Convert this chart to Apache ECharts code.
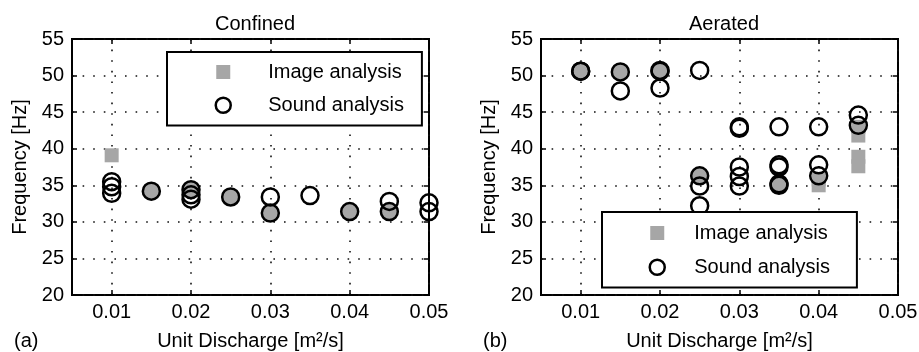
<!DOCTYPE html>
<html>
<head>
<meta charset="utf-8">
<script src="https://cdn.jsdelivr.net/npm/echarts@6/dist/echarts.min.js"></script>
<style>
  html, body { margin: 0; padding: 0; background: #fff; }
  #chart { width: 919px; height: 352px; }
</style>
</head>
<body>
<div id="chart"></div>
<script>
// tick values shared by both panels
const xTicks = [0.01, 0.02, 0.03, 0.04, 0.05];
const yMin = 20, yMax = 55, yStep = 5;

// (a) Confined  -- [unit discharge, frequency]
const confinedImage = [[0.01, 39.1]];
const confinedMatched = [[0.015, 34.2], [0.02, 34.4], [0.025, 33.4], [0.03, 31.2], [0.04, 31.4], [0.045, 31.4]];
const confinedSound = [[0.01, 35.5], [0.01, 34.8], [0.01, 33.9], [0.02, 33.7], [0.02, 33.1], [0.03, 33.4],
  [0.035, 33.6], [0.045, 32.8], [0.05, 32.6], [0.05, 31.4]];

// (b) Aerated
const aeratedImage = [[0.04, 35.0], [0.04, 35.8], [0.045, 43.0], [0.045, 41.8], [0.045, 38.9], [0.045, 37.6]];
const aeratedMatched = [[0.01, 50.6], [0.015, 50.5], [0.02, 50.6], [0.025, 36.3], [0.035, 35.0]];
const aeratedSound = [[0.01, 50.6], [0.015, 47.9], [0.02, 50.7], [0.02, 48.3], [0.025, 50.7], [0.025, 34.9], [0.025, 32.2],
  [0.03, 43.0], [0.03, 42.8], [0.03, 37.5], [0.03, 36.2], [0.03, 34.9],
  [0.035, 43.0], [0.035, 37.8], [0.035, 37.5], [0.035, 35.2],
  [0.04, 43.0], [0.04, 37.8], [0.04, 36.3],
  [0.045, 44.6], [0.045, 43.2]];

const FONT = '"Liberation Sans", Arial, Helvetica, sans-serif';
const FS = 20;
const GRAY = '#a6a6a6';

const chart = echarts.init(document.getElementById('chart'), null, { renderer: 'canvas' });

const gridDots = { show: true, lineStyle: { type: [1.6, 9], color: '#111', width: 1.6 } };

// bottom/left axes carry labels, top/right only mirror the ticks (matlab box)
function xAxes(gridIndex) {
  const base = {
    type: 'value', gridIndex: gridIndex, min: 0.005, max: 0.05,
    axisLine: { show: false },
    axisTick: { show: true, inside: true, length: 5, customValues: xTicks, lineStyle: { color: '#000', width: 1.5 } }
  };
  return [
    Object.assign({}, base, {
      position: 'bottom',
      name: 'Unit Discharge [m\u00b2/s]', nameLocation: 'middle', nameGap: 36,
      nameTextStyle: { color: '#000', fontSize: FS, fontFamily: FONT },
      axisLabel: { customValues: xTicks, formatter: v => v.toFixed(2), color: '#000', fontSize: FS, fontFamily: FONT, margin: 7 },
      splitLine: gridDots
    }),
    Object.assign({}, base, { position: 'top', axisLabel: { show: false }, splitLine: { show: false } })
  ];
}

function yAxes(gridIndex) {
  const base = {
    type: 'value', gridIndex: gridIndex, min: yMin, max: yMax, interval: yStep,
    axisLine: { show: false },
    axisTick: { show: true, inside: true, length: 5, lineStyle: { color: '#000', width: 1.5 } }
  };
  return [
    Object.assign({}, base, {
      position: 'left',
      name: 'Frequency [Hz]', nameLocation: 'middle', nameGap: 42,
      nameTextStyle: { color: '#000', fontSize: FS, fontFamily: FONT },
      axisLabel: { color: '#000', fontSize: FS, fontFamily: FONT, margin: 8 },
      splitLine: gridDots
    }),
    Object.assign({}, base, { position: 'right', axisLabel: { show: false }, splitLine: { show: false } })
  ];
}

function panelSeries(axisIndex, image, matched, sound) {
  return [
    {
      name: 'Image analysis', type: 'scatter', xAxisIndex: axisIndex, yAxisIndex: axisIndex,
      symbol: 'rect', symbolSize: 14, data: image,
      itemStyle: { color: GRAY, opacity: 1 }, z: 2
    },
    {
      name: 'Image + sound', type: 'scatter', xAxisIndex: axisIndex, yAxisIndex: axisIndex,
      symbol: 'circle', symbolSize: 17, data: matched,
      itemStyle: { color: GRAY, borderColor: '#000', borderWidth: 2.5, opacity: 1 }, z: 3
    },
    {
      name: 'Sound analysis', type: 'scatter', xAxisIndex: axisIndex, yAxisIndex: axisIndex,
      symbol: 'circle', symbolSize: 17, data: sound,
      itemStyle: { color: 'rgba(255,255,255,0)', borderColor: '#000', borderWidth: 2.5, opacity: 1 }, z: 4
    }
  ];
}

function legend(left, top, pad, gap, textGap) {
  return {
    orient: 'vertical', left: left, top: top,
    padding: pad, itemGap: gap, itemWidth: 20, itemHeight: 20,
    selectedMode: false,
    backgroundColor: '#fff', borderColor: '#000', borderWidth: 2,
    textStyle: { color: '#000', fontSize: FS, fontFamily: FONT, padding: [0, 0, 0, textGap] },
    data: [
      { name: 'Image analysis', icon: 'path://M0,0M20,20M3,3L17,3L17,17L3,17Z' },
      {
        name: 'Sound analysis', icon: 'path://M0,0M20,20M10,2.5A7.5,7.5,0,1,1,9.99,2.5Z',
        itemStyle: { color: '#fff', borderColor: '#000', borderWidth: 2.5 }
      }
    ],
    z: 10
  };
}

const titleStyle = { color: '#000', fontSize: FS, fontWeight: 'normal', fontFamily: FONT };

chart.setOption({
  backgroundColor: '#fff',
  animation: false,
  title: [
    { text: 'Confined', left: 250, top: 9, textAlign: 'center', textStyle: titleStyle },
    { text: 'Aerated', left: 719, top: 9, textAlign: 'center', textStyle: titleStyle },
    { text: '(a)', left: 9, top: 326, textStyle: titleStyle },
    { text: '(b)', left: 478, top: 326, textStyle: titleStyle }
  ],
  grid: [
    { left: 72, top: 39, width: 357, height: 256, outerBoundsMode: 'none', show: true, borderColor: '#000', borderWidth: 2 },
    { left: 541, top: 39, width: 357, height: 256, outerBoundsMode: 'none', show: true, borderColor: '#000', borderWidth: 2 }
  ],
  legend: [
    legend(167, 52, [10, 18, 9, 45], 12, 30),
    legend(602, 212, [11, 27, 9, 44], 13, 22)
  ],
  xAxis: xAxes(0).concat(xAxes(1)),
  yAxis: yAxes(0).concat(yAxes(1)),
  series: panelSeries(0, confinedImage, confinedMatched, confinedSound)
    .concat(panelSeries(2, aeratedImage, aeratedMatched, aeratedSound))
});
</script>
</body>
</html>
